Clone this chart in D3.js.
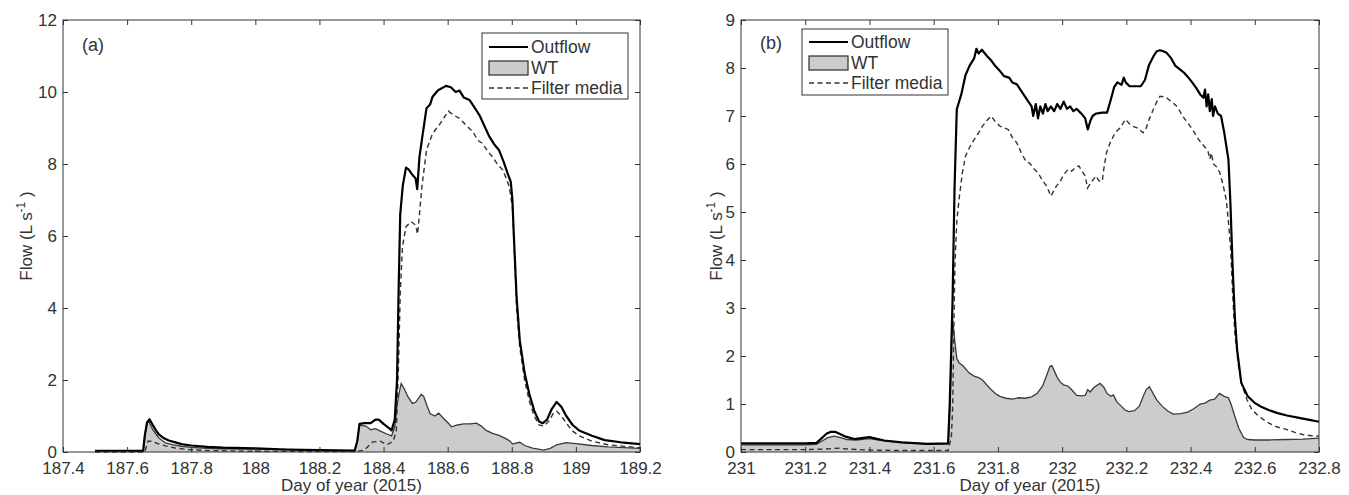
<!DOCTYPE html>
<html>
<head>
<meta charset="utf-8">
<script src="https://cdn.jsdelivr.net/npm/d3@7"></script>
<style>
  html, body { margin: 0; padding: 0; background: #fff; }
  svg text { font-family: "Liberation Sans", Arial, sans-serif; fill: #333; }
</style>
</head>
<body>
<div id="chart"></div>
<script>
// Panel (a): event of day 187-189
var outflowA = [
  [187.50,0.03],[187.60,0.03],[187.650,0.03],[187.655,0.45],[187.662,0.82],[187.670,0.91],[187.680,0.75],
  [187.690,0.60],[187.700,0.48],[187.715,0.38],[187.730,0.32],[187.745,0.28],[187.77,0.22],[187.80,0.18],
  [187.85,0.14],[187.90,0.12],[188.00,0.10],[188.10,0.07],[188.20,0.05],[188.31,0.04],
  [188.318,0.30],[188.325,0.78],[188.34,0.80],[188.36,0.80],[188.375,0.90],[188.385,0.90],[188.40,0.78],
  [188.415,0.68],[188.425,0.60],[188.435,0.90],[188.442,2.0],[188.447,4.5],[188.452,6.6],[188.460,7.4],
  [188.470,7.9],[188.478,7.85],[188.49,7.7],[188.500,7.6],[188.505,7.3],[188.512,8.2],[188.520,8.7],
  [188.534,9.55],[188.545,9.65],[188.553,9.87],[188.570,10.05],[188.595,10.17],[188.610,10.13],[188.625,10.0],
  [188.637,10.04],[188.650,9.85],[188.668,9.78],[188.685,9.55],[188.699,9.36],[188.715,9.05],[188.730,8.76],
  [188.745,8.55],[188.760,8.39],[188.775,8.05],[188.787,7.74],[188.797,7.5],[188.802,7.0],[188.807,5.9],
  [188.815,4.3],[188.825,3.1],[188.840,2.2],[188.855,1.6],[188.870,1.15],[188.885,0.85],[188.897,0.80],
  [188.91,0.90],[188.925,1.20],[188.940,1.39],[188.955,1.25],[188.970,1.00],[188.990,0.75],[189.010,0.60],
  [189.050,0.45],[189.090,0.33],[189.140,0.27],[189.200,0.22]
];
var wtA = [
  [187.50,0.03],[187.65,0.03],[187.655,0.40],[187.662,0.80],[187.668,0.85],[187.68,0.62],[187.69,0.50],
  [187.70,0.38],[187.72,0.25],[187.745,0.20],[187.77,0.16],[187.80,0.13],[187.85,0.10],[187.90,0.09],
  [188.00,0.08],[188.10,0.06],[188.20,0.04],[188.31,0.03],
  [188.318,0.30],[188.325,0.75],[188.345,0.72],[188.36,0.62],[188.375,0.65],[188.39,0.58],[188.41,0.50],
  [188.425,0.45],[188.435,0.70],[188.442,1.30],[188.45,1.70],[188.455,1.90],[188.465,1.75],[188.475,1.55],
  [188.49,1.35],[188.50,1.38],[188.51,1.50],[188.517,1.60],[188.525,1.55],[188.535,1.30],[188.545,1.07],
  [188.56,1.00],[188.572,1.08],[188.585,0.95],[188.60,0.82],[188.612,0.70],[188.63,0.75],[188.65,0.78],
  [188.67,0.78],[188.69,0.80],[188.705,0.72],[188.72,0.60],[188.74,0.52],[188.76,0.46],[188.78,0.38],
  [188.795,0.30],[188.802,0.22],[188.81,0.24],[188.825,0.27],[188.84,0.18],[188.865,0.11],[188.90,0.05],
  [188.92,0.10],[188.94,0.20],[188.97,0.26],[189.00,0.23],[189.05,0.18],[189.10,0.14],[189.20,0.10]
];
var filterA = [
  [187.50,0.00],[187.655,0.00],[187.665,0.30],[187.675,0.30],[187.70,0.22],[187.72,0.17],[187.75,0.11],
  [187.79,0.07],[187.85,0.04],[188.00,0.02],[188.31,0.01],[188.34,0.05],[188.366,0.28],[188.39,0.30],
  [188.41,0.20],[188.43,0.30],[188.44,0.60],[188.447,2.5],[188.452,4.4],[188.459,5.7],[188.47,6.26],
  [188.486,6.4],[188.50,6.3],[188.506,6.05],[188.512,6.6],[188.52,7.4],[188.534,8.39],[188.553,8.85],
  [188.575,9.1],[188.602,9.47],[188.62,9.35],[188.637,9.27],[188.66,9.05],[188.678,8.9],[188.695,8.65],
  [188.709,8.57],[188.725,8.35],[188.74,8.2],[188.755,8.0],[188.772,7.83],[188.785,7.55],[188.792,7.37],
  [188.802,6.8],[188.808,5.6],[188.815,4.0],[188.825,2.9],[188.84,2.0],[188.855,1.4],[188.87,1.0],
  [188.885,0.75],[188.90,0.72],[188.915,0.85],[188.93,1.08],[188.94,1.13],[188.955,1.0],[188.97,0.80],
  [188.99,0.58],[189.01,0.45],[189.05,0.30],[189.10,0.20],[189.20,0.12]
];

// Panel (b): event of day 231-232
var outflowB = [
  [231.0,0.18],[231.1,0.18],[231.2,0.18],[231.235,0.19],[231.25,0.28],[231.266,0.38],[231.28,0.42],
  [231.293,0.42],[231.31,0.37],[231.326,0.32],[231.353,0.27],[231.375,0.29],[231.40,0.31],[231.42,0.28],
  [231.446,0.24],[231.50,0.20],[231.58,0.17],[231.645,0.18],[231.650,1.0],[231.655,2.2],[231.659,3.2],
  [231.665,5.5],[231.672,7.14],[231.686,7.45],[231.699,7.85],[231.712,8.05],[231.726,8.2],[231.733,8.4],
  [231.74,8.3],[231.75,8.38],[231.766,8.25],[231.78,8.15],[231.792,8.04],[231.805,7.95],[231.819,7.83],
  [231.835,7.8],[231.845,7.7],[231.859,7.66],[231.87,7.55],[231.885,7.4],[231.895,7.3],[231.905,7.2],
  [231.91,7.0],[231.918,7.25],[231.925,6.95],[231.932,7.2],[231.94,7.05],[231.948,7.25],[231.955,7.1],
  [231.965,7.2],[231.975,7.1],[231.985,7.25],[231.995,7.15],[232.005,7.3],[232.015,7.15],[232.025,7.2],
  [232.035,7.1],[232.045,7.15],[232.06,7.05],[232.072,6.95],[232.08,6.72],[232.088,6.9],[232.095,7.0],
  [232.105,7.05],[232.125,7.07],[232.14,7.07],[232.152,7.35],[232.162,7.6],[232.172,7.7],[232.185,7.65],
  [232.192,7.8],[232.198,7.7],[232.21,7.62],[232.23,7.62],[232.245,7.62],[232.258,7.75],[232.27,8.05],
  [232.285,8.25],[232.295,8.35],[232.305,8.37],[232.315,8.35],[232.325,8.32],[232.34,8.2],[232.352,8.05],
  [232.365,7.98],[232.38,7.9],[232.391,7.82],[232.405,7.7],[232.418,7.58],[232.43,7.45],[232.44,7.38],
  [232.445,7.55],[232.45,7.2],[232.455,7.45],[232.46,7.1],[232.466,7.35],[232.47,7.0],[232.476,7.2],
  [232.485,7.05],[232.495,7.0],[232.505,6.65],[232.518,6.09],[232.524,5.2],[232.531,3.87],[232.538,2.8],
  [232.545,2.13],[232.558,1.44],[232.578,1.16],[232.60,1.02],[232.618,0.95],[232.645,0.87],[232.671,0.81],
  [232.70,0.76],[232.738,0.71],[232.77,0.67],[232.80,0.63]
];
var wtB = [
  [231.0,0.15],[231.2,0.15],[231.235,0.16],[231.25,0.22],[231.27,0.30],[231.29,0.33],[231.31,0.30],
  [231.33,0.26],[231.36,0.25],[231.40,0.28],[231.43,0.25],[231.46,0.22],[231.50,0.20],[231.58,0.17],
  [231.645,0.17],[231.652,1.2],[231.656,2.4],[231.659,2.76],[231.666,2.3],[231.672,1.95],[231.679,1.86],
  [231.692,1.79],[231.71,1.65],[231.726,1.58],[231.74,1.55],[231.752,1.5],[231.765,1.4],[231.779,1.3],
  [231.792,1.22],[231.806,1.16],[231.825,1.12],[231.846,1.1],[231.865,1.13],[231.885,1.12],[231.905,1.15],
  [231.922,1.22],[231.939,1.37],[231.952,1.6],[231.962,1.78],[231.968,1.8],[231.975,1.7],[231.985,1.55],
  [231.995,1.45],[232.005,1.4],[232.019,1.37],[232.032,1.28],[232.045,1.18],[232.06,1.17],[232.072,1.18],
  [232.08,1.3],[232.087,1.25],[232.10,1.35],[232.118,1.43],[232.13,1.35],[232.14,1.22],[232.152,1.16],
  [232.16,1.19],[232.17,1.05],[232.185,0.95],[232.195,0.88],[232.207,0.84],[232.225,0.86],[232.24,0.95],
  [232.252,1.15],[232.262,1.3],[232.272,1.36],[232.285,1.2],[232.295,1.08],[232.312,0.95],[232.33,0.85],
  [232.346,0.79],[232.37,0.8],[232.391,0.83],[232.41,0.9],[232.43,1.0],[232.445,1.02],[232.46,1.08],
  [232.475,1.1],[232.49,1.22],[232.505,1.16],[232.518,1.13],[232.526,1.0],[232.538,0.74],[232.55,0.5],
  [232.565,0.3],[232.578,0.26],[232.60,0.25],[232.644,0.25],[232.70,0.26],[232.75,0.27],[232.80,0.29]
];
var filterB = [
  [231.0,0.05],[231.2,0.05],[231.26,0.06],[231.30,0.08],[231.34,0.06],[231.40,0.04],[231.50,0.03],
  [231.645,0.03],[231.655,0.3],[231.659,0.9],[231.666,3.87],[231.672,4.8],[231.679,5.26],[231.689,5.8],
  [231.699,6.16],[231.712,6.35],[231.726,6.51],[231.74,6.65],[231.752,6.79],[231.765,6.9],[231.779,7.0],
  [231.79,6.9],[231.806,6.79],[231.82,6.75],[231.832,6.72],[231.845,6.55],[231.859,6.44],[231.875,6.2],
  [231.888,6.05],[231.899,6.02],[231.912,5.9],[231.925,5.82],[231.935,5.7],[231.945,5.6],[231.952,5.54],
  [231.965,5.33],[231.975,5.45],[231.983,5.55],[231.992,5.61],[232.005,5.78],[232.019,5.89],[232.03,5.85],
  [232.04,5.92],[232.052,5.96],[232.062,5.85],[232.072,5.75],[232.079,5.5],[232.09,5.62],[232.10,5.7],
  [232.105,5.75],[232.115,5.65],[232.125,5.64],[232.13,5.9],[232.138,6.23],[232.15,6.45],[232.165,6.65],
  [232.18,6.75],[232.19,6.85],[232.198,6.93],[232.208,6.85],[232.218,6.79],[232.235,6.75],[232.252,6.65],
  [232.262,6.75],[232.271,6.93],[232.285,7.15],[232.295,7.3],[232.305,7.41],[232.315,7.4],[232.325,7.38],
  [232.34,7.3],[232.358,7.2],[232.375,7.0],[232.391,6.86],[232.408,6.7],[232.425,6.51],[232.445,6.35],
  [232.455,6.25],[232.46,6.1],[232.465,6.23],[232.471,6.0],[232.48,5.95],[232.491,5.82],[232.50,5.6],
  [232.511,5.26],[232.518,4.8],[232.525,4.22],[232.531,3.3],[232.538,2.48],[232.548,1.85],[232.558,1.44],
  [232.575,1.1],[232.591,0.88],[232.615,0.73],[232.644,0.6],[232.67,0.52],[232.698,0.47],[232.725,0.41],
  [232.751,0.36],[232.775,0.34],[232.80,0.33]
];

var xTicksA = [187.4, 187.6, 187.8, 188, 188.2, 188.4, 188.6, 188.8, 189, 189.2];
var yTicksA = [0, 2, 4, 6, 8, 10, 12];
var xTicksB = [231, 231.2, 231.4, 231.6, 231.8, 232, 232.2, 232.4, 232.6, 232.8];
var yTicksB = [0, 1, 2, 3, 4, 5, 6, 7, 8, 9];
var legendLabels = ["Outflow", "WT", "Filter media"];

(function () {
  var W = 1349, H = 495;
  var ink = "#333";

  var svg = d3.select("#chart").append("svg")
    .attr("width", W)
    .attr("height", H);

  function fmt(v) { return String(+v.toFixed(1)); }

  function drawPanel(cfg) {
    var x = d3.scaleLinear().domain(cfg.xDomain).range([cfg.left, cfg.right]);
    var y = d3.scaleLinear().domain(cfg.yDomain).range([cfg.bottom, cfg.top]);
    var g = svg.append("g");

    // WT shaded area
    g.append("path")
      .datum(cfg.wt)
      .attr("fill", "#cccccc")
      .attr("stroke", "none")
      .attr("d", d3.area()
        .x(function(d){ return x(d[0]); })
        .y0(y(0))
        .y1(function(d){ return y(d[1]); }));

    var line = d3.line()
      .x(function(d){ return x(d[0]); })
      .y(function(d){ return y(d[1]); });

    g.append("path")
      .datum(cfg.wt)
      .attr("fill", "none")
      .attr("stroke", "#3a3a3a")
      .attr("stroke-width", 1.3)
      .attr("d", line);

    g.append("path")
      .datum(cfg.filter)
      .attr("fill", "none")
      .attr("stroke", "#333")
      .attr("stroke-width", 1.4)
      .attr("stroke-dasharray", "5,3.5")
      .attr("d", line);

    g.append("path")
      .datum(cfg.outflow)
      .attr("fill", "none")
      .attr("stroke", "#000")
      .attr("stroke-width", 2.2)
      .attr("stroke-linejoin", "round")
      .attr("d", line);

    // axes, ticks inside on all four sides
    g.append("g")
      .attr("transform", "translate(0," + cfg.bottom + ")")
      .call(d3.axisBottom(x).tickValues(cfg.xTicks).tickFormat(fmt)
        .tickSizeInner(-5).tickSizeOuter(0).tickPadding(10));
    g.append("g")
      .attr("transform", "translate(0," + cfg.top + ")")
      .call(d3.axisTop(x).tickValues(cfg.xTicks).tickFormat("")
        .tickSizeInner(-5).tickSizeOuter(0));
    g.append("g")
      .attr("transform", "translate(" + cfg.left + ",0)")
      .call(d3.axisLeft(y).tickValues(cfg.yTicks).tickFormat(fmt)
        .tickSizeInner(-5).tickSizeOuter(0).tickPadding(6));
    g.append("g")
      .attr("transform", "translate(" + cfg.right + ",0)")
      .call(d3.axisRight(y).tickValues(cfg.yTicks).tickFormat("")
        .tickSizeInner(-5).tickSizeOuter(0));

    g.selectAll(".domain").remove();
    g.selectAll(".tick line").attr("stroke", ink);
    g.selectAll(".tick text")
      .style("font-size", "17px")
      .attr("fill", ink);

    g.append("rect")
      .attr("x", cfg.left).attr("y", cfg.top)
      .attr("width", cfg.right - cfg.left)
      .attr("height", cfg.bottom - cfg.top)
      .attr("fill", "none")
      .attr("stroke", ink)
      .attr("stroke-width", 1);

    // axis titles
    g.append("text")
      .attr("x", (cfg.left + cfg.right) / 2)
      .attr("y", 491)
      .attr("text-anchor", "middle")
      .style("font-size", "17px")
      .text("Day of year (2015)");

    var yl = g.append("text")
      .attr("transform", "translate(" + cfg.yLabelX + "," + ((cfg.top + cfg.bottom) / 2) + ") rotate(-90)")
      .attr("text-anchor", "middle")
      .style("font-size", "17px");
    yl.append("tspan").text("Flow (L s");
    yl.append("tspan").attr("dy", -7).style("font-size", "12px").text("-1");
    yl.append("tspan").attr("dy", 7).text(" )");

    g.append("text")
      .attr("x", cfg.tagX).attr("y", cfg.tagY)
      .attr("dy", "0.35em")
      .style("font-size", "18px")
      .text(cfg.tag);

    // legend
    var lg = cfg.legend;
    g.append("rect")
      .attr("x", lg.x).attr("y", lg.y)
      .attr("width", lg.w).attr("height", lg.h)
      .attr("fill", "#fff")
      .attr("stroke", ink);
    var sx0 = lg.x + 7, sx1 = lg.x + 46;
    g.append("line")
      .attr("x1", sx0).attr("x2", sx1)
      .attr("y1", lg.rows[0]).attr("y2", lg.rows[0])
      .attr("stroke", "#000").attr("stroke-width", 2);
    g.append("rect")
      .attr("x", sx0).attr("y", lg.rows[1] - 7)
      .attr("width", sx1 - sx0).attr("height", 14)
      .attr("fill", "#cccccc").attr("stroke", "#3a3a3a").attr("stroke-width", 1.3);
    g.append("line")
      .attr("x1", sx0).attr("x2", sx1)
      .attr("y1", lg.rows[2]).attr("y2", lg.rows[2])
      .attr("stroke", "#333").attr("stroke-width", 1.4)
      .attr("stroke-dasharray", "5,3.5");
    legendLabels.forEach(function(t, i) {
      g.append("text")
        .attr("x", sx1 + 3).attr("y", lg.rows[i])
        .attr("dy", "0.35em")
        .style("font-size", "17.5px")
        .text(t);
    });
  }

  drawPanel({
    left: 63, right: 640, top: 20, bottom: 452,
    xDomain: [187.4, 189.2], yDomain: [0, 12],
    xTicks: xTicksA, yTicks: yTicksA,
    outflow: outflowA, wt: wtA, filter: filterA,
    yLabelX: 32, tag: "(a)", tagX: 82, tagY: 45,
    legend: { x: 482, y: 33, w: 146, h: 66, rows: [47, 68, 88] }
  });

  drawPanel({
    left: 741, right: 1319, top: 20, bottom: 452,
    xDomain: [231, 232.8], yDomain: [0, 9],
    xTicks: xTicksB, yTicks: yTicksB,
    outflow: outflowB, wt: wtB, filter: filterB,
    yLabelX: 722, tag: "(b)", tagX: 760, tagY: 43,
    legend: { x: 802, y: 29, w: 146, h: 66, rows: [42, 63, 83] }
  });
})();
</script>
</body>
</html>
